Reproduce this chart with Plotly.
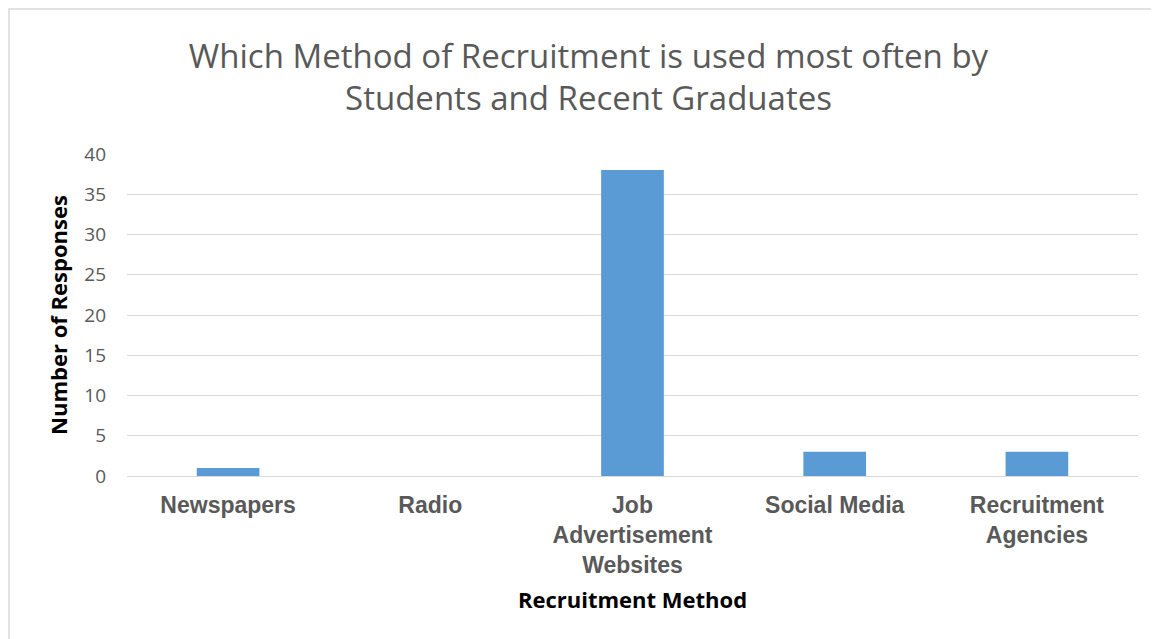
import plotly.graph_objects as go

categories = ["Newspapers", "Radio", "Job<br>Advertisement<br>Websites", "Social Media", "Recruitment<br>Agencies"]
responses = [1, 0, 38, 3, 3]
y_ticks = [0, 5, 10, 15, 20, 25, 30, 35, 40]

W, H = 1151, 631
L, R, T, B = 119, 21, 146, 163
pw, ph = W - L - R, H - T - B

fig = go.Figure(go.Bar(x=categories, y=responses, marker=dict(color="#5b9bd5", line=dict(width=0))))

fig.update_layout(
    width=W, height=H,
    margin=dict(l=L, r=R, t=T, b=B),
    paper_bgcolor="white", plot_bgcolor="white",
    bargap=0.69,
    showlegend=False,
    title=dict(
        text="Which Method of Recruitment is used most often by<br>Students and Recent Graduates",
        x=580.5 / W, xanchor="center", xref="container", yref="container", y=1 - 59.5 / H, yanchor="middle",
        font=dict(family="Open Sans, Calibri, sans-serif", size=33, color="#595959"),
    ),
    xaxis=dict(
        tickfont=dict(family="Liberation Sans, Arial, sans-serif", size=23, color="#595959", weight="bold"),
        ticklabelstandoff=13,
        title=dict(text="<b>Recruitment Method</b>", font=dict(family="Open Sans, Calibri, sans-serif", size=22, color="black"), standoff=15),
        showline=False, ticks="", showgrid=False,
    ),
    yaxis=dict(
        range=[0, 40], tickvals=y_ticks,
        tickfont=dict(family="Open Sans, Calibri, sans-serif", size=19, color="#595959"),
        ticklabelstandoff=20,
        gridcolor="#d9d9d9", gridwidth=1.3,
        zeroline=True, zerolinecolor="#d9d9d9", zerolinewidth=1.3,
        title=dict(text="<b>Number of Responses</b>", font=dict(family="Open Sans, Calibri, sans-serif", size=22, color="black"), standoff=10),
        ticks="", showline=False,
    ),
    shapes=[dict(type="rect", xref="paper", yref="paper",
                 x0=-(L - 1) / pw, y0=-(B + 40) / ph, x1=1 + (R + 40) / pw, y1=1 + (T - 1) / ph,
                 line=dict(color="#d9d9d9", width=1.5), fillcolor="rgba(0,0,0,0)", layer="below")],
)

fig.write_html("out.html")
